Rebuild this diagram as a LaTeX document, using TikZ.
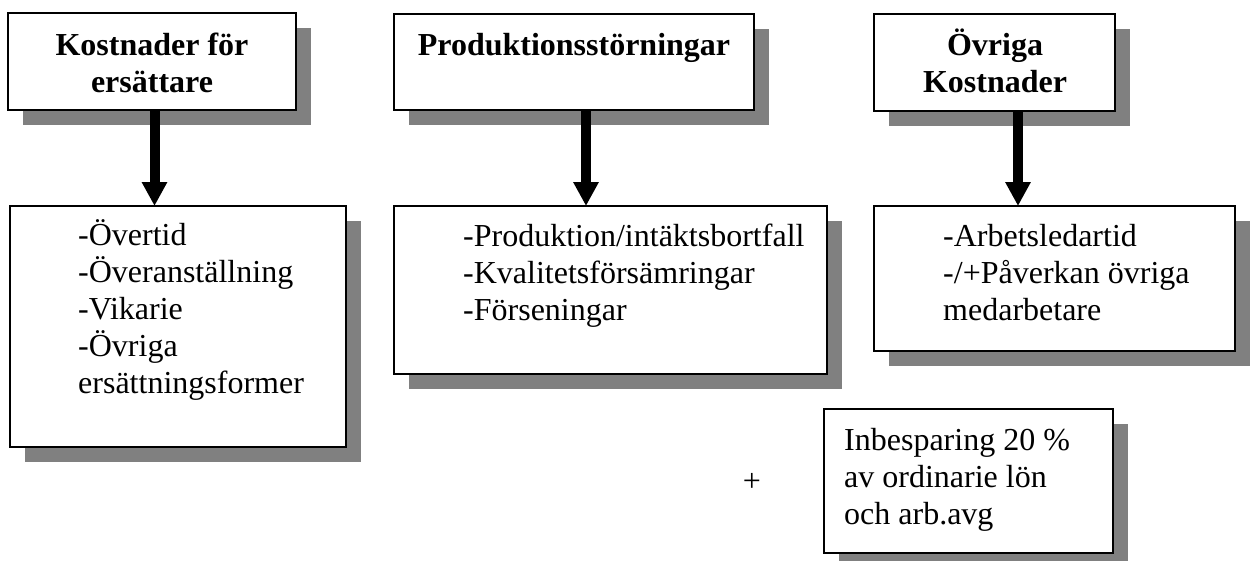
\documentclass[tikz,border=0pt]{standalone}
\usepackage{fontspec}
\setmainfont{Liberation Serif}
\usetikzlibrary{arrows.meta,shadows}
\definecolor{shadowgray}{RGB}{128,128,128}
\begin{document}
\begin{tikzpicture}[x=1pt,y=-1pt,
  box/.style={draw=black, line width=2pt, fill=white, inner sep=0pt, outer sep=0pt, anchor=north west,
    drop shadow={shadow xshift=15pt, shadow yshift=-15pt, fill=shadowgray, opacity=1}},
  txt/.style={inner sep=0pt, font=\fontsize{32}{37}\selectfont},
  boldtxt/.style={inner sep=0pt, font=\fontsize{32}{37}\selectfont\bfseries},
  arr/.style={line width=10pt, -{Triangle[width=24pt,length=24pt]}}]
\useasboundingbox (0,0) rectangle (1255,560);

% boxes
\node[box, minimum width=288pt, minimum height=97pt] (b1) at (8,13) {};
\node[box, minimum width=360pt, minimum height=96pt] (b2) at (394,14) {};
\node[box, minimum width=241pt, minimum height=97pt] (b3) at (874,14) {};
\node[box, minimum width=336pt, minimum height=241pt] (b4) at (10,206) {};
\node[box, minimum width=433pt, minimum height=168pt] (b5) at (394,206) {};
\node[box, minimum width=361pt, minimum height=145pt] (b6) at (874,206) {};
\node[box, minimum width=289pt, minimum height=144pt] (b7) at (824,409) {};

% texts
\node[boldtxt, anchor=base] (t1) at (152,55) {\parbox[t]{280pt}{\centering Kostnader för\\ersättare}};
\node[boldtxt, anchor=base] (t2) at (574,55) {\parbox[t]{350pt}{\centering Produktionsstörningar}};
\node[boldtxt, anchor=base] (t3) at (995,55) {\parbox[t]{235pt}{\centering Övriga\\Kostnader}};
\node[txt, anchor=base west] (t4) at (78,245) {\parbox[t]{270pt}{-Övertid\\-Överanställning\\-Vikarie\\-Övriga\\ersättningsformer}};
\node[txt, anchor=base west] (t5) at (463,246) {\parbox[t]{360pt}{-Produktion/intäktsbortfall\\-Kvalitetsförsämringar\\-Förseningar}};
\node[txt, anchor=base west] (t6) at (943,246) {\parbox[t]{290pt}{-Arbetsledartid\\-/+Påverkan övriga\\medarbetare}};
\node[txt, anchor=base west] (t7) at (844,450) {\parbox[t]{265pt}{Inbesparing 20 \%\\av ordinarie lön\\och arb.avg}};
\node[txt] (plus) at (752,482) {+};

% arrows
\coordinate (a1) at ([xshift=2.5pt]b1.south);
\coordinate (a2) at ([xshift=12pt]b2.south);
\coordinate (a3) at ([xshift=23.5pt]b3.south);
\draw[arr] (a1) -- (a1 |- b4.north);
\draw[arr] (a2) -- (a2 |- b5.north);
\draw[arr] (a3) -- (a3 |- b6.north);
\end{tikzpicture}
\end{document}
